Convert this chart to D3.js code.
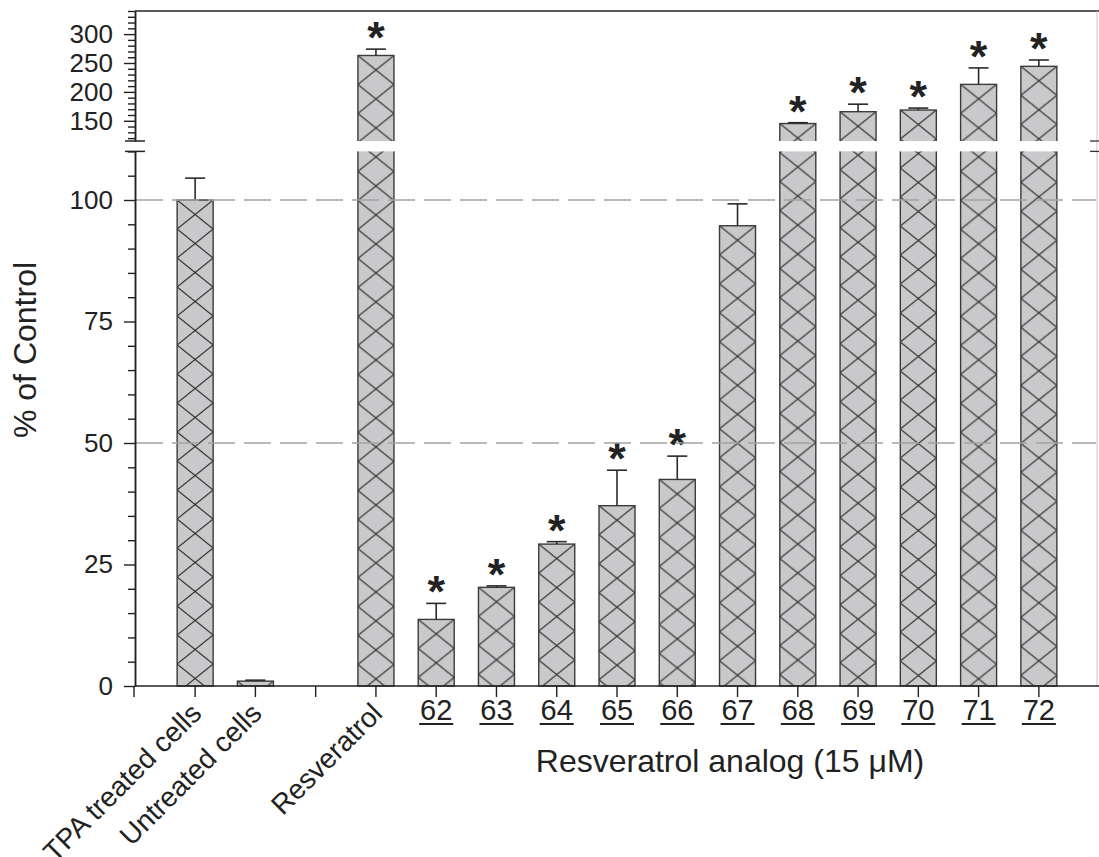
<!DOCTYPE html>
<html>
<head>
<meta charset="utf-8">
<script src="https://cdn.jsdelivr.net/npm/d3@7"></script>
<style>
  body { margin: 0; background: #fff; }
  text { font-family: "Liberation Sans", Arial, sans-serif; fill: #222; }
</style>
</head>
<body>
<svg id="chart" width="1099" height="857"></svg>
<script>
// values (% of control, mean and upward error)
const categories = ['TPA treated cells', 'Untreated cells', '', 'Resveratrol',
    '62', '63', '64', '65', '66', '67', '68', '69', '70', '71', '72'];
const means = [100, 1.0, null, 263, 13.7, 20.3, 29.2, 37.1, 42.5, 94.7, 145.2, 165.7, 168.6, 213, 244.2];
const errors = [4.5, 0.2, null, 11, 3.3, 0.3, 0.5, 7.3, 4.8, 4.5, 1.5, 13, 3.4, 28.5, 11];
const starred = [false, false, false, true, true, true, true, true, true, false, true, true, true, true, true];
const lowerTicks = [0, 25, 50, 75, 100];
const upperTicks = [150, 200, 250, 300];
const refLines = [50, 100];
const xTitle = 'Resveratrol analog (15 \u03bcM)';
const yTitle = '% of Control';

const svg = d3.select('#chart');
const plotL = 135, plotR = 1099, plotB = 686, plotT = 11;
const breakLow = 110, breakHigh = 115;

const x = d3.scaleBand()
    .domain(categories)
    .range([165, 1069]);
const yL = d3.scaleLinear().domain([0, breakLow]).range([plotB, 151.4]);
const yU = d3.scaleLinear().domain([breakHigh, 340]).range([141, plotT]);
const y = v => (v <= breakLow ? yL(v) : yU(v));
const cx = c => x(c) + x.bandwidth() / 2;
const barW = 36;

const rows = categories.map((c, i) => ({
    c, i, v: means[i], e: errors[i], star: starred[i],
})).filter(d => d.v !== null);

// hatch patterns, one per bar so the lattice lines up with each bar
const defs = svg.append('defs');
const pw = 36, ph = 29;
rows.forEach(d => {
    const p = defs.append('pattern')
        .attr('id', `hatch${d.i}`)
        .attr('patternUnits', 'userSpaceOnUse')
        .attr('x', cx(d.c) - barW / 2)
        .attr('y', y(d.v))
        .attr('width', pw)
        .attr('height', ph);
    p.append('rect').attr('width', pw).attr('height', ph).attr('fill', '#c9c9cb');
    const s = ph / pw;
    let path = '';
    for (let n = -1; n <= 2; n++) {
        path += `M-6,${-6 * s + ph * n}L42,${42 * s + ph * n}`;
        path += `M-6,${6 * s + ph * n}L42,${-42 * s + ph * n}`;
    }
    p.append('path').attr('d', path).attr('stroke', '#2a2a2a').attr('stroke-width', 1.1).attr('fill', 'none');
});

// bars
svg.append('g').selectAll('rect')
    .data(rows)
    .join('rect')
    .attr('x', d => cx(d.c) - barW / 2)
    .attr('y', d => y(d.v))
    .attr('width', barW)
    .attr('height', d => plotB - y(d.v))
    .attr('fill', d => `url(#hatch${d.i})`)
    .attr('stroke', '#3a3a3a')
    .attr('stroke-width', 1.4);

// gap of the broken axis
svg.append('rect')
    .attr('x', plotL + 1).attr('y', 141)
    .attr('width', plotR - plotL - 4).attr('height', 151.4 - 141)
    .attr('fill', '#fff');

// error bars (upper only)
const eb = svg.append('g').attr('stroke', '#2a2a2a').attr('stroke-width', 1.6);
rows.forEach(d => {
    const y0 = y(d.v), y1 = y(d.v + d.e);
    eb.append('line').attr('x1', cx(d.c)).attr('x2', cx(d.c)).attr('y1', y0).attr('y2', y1);
    eb.append('line').attr('x1', cx(d.c) - 10).attr('x2', cx(d.c) + 10).attr('y1', y1).attr('y2', y1);
});

// asterisks
svg.append('g').selectAll('text')
    .data(rows.filter(d => d.star))
    .join('text')
    .attr('x', d => cx(d.c))
    .attr('y', d => y(d.v + d.e) + 4)
    .attr('text-anchor', 'middle')
    .attr('font-size', 45)
    .attr('font-weight', 'bold')
    .text('*');

// dashed reference lines
svg.append('g').selectAll('line')
    .data(refLines)
    .join('line')
    .attr('x1', plotL + 1).attr('x2', plotR - 3)
    .attr('y1', d => yL(d)).attr('y2', d => yL(d))
    .attr('stroke', '#a3a3a3')
    .attr('stroke-width', 1.5)
    .attr('stroke-dasharray', '27,9');

// frame
svg.append('line').attr('x1', plotL).attr('x2', plotR).attr('y1', plotT).attr('y2', plotT)
    .attr('stroke', '#222').attr('stroke-width', 1.5);
svg.append('line').attr('x1', plotR - 2).attr('x2', plotR - 2).attr('y1', plotT).attr('y2', plotB)
    .attr('stroke', '#c4c4c4').attr('stroke-width', 1);
svg.append('g').attr('stroke', '#333').attr('stroke-width', 1.3)
    .selectAll('line').data([141, 151.4]).join('line')
    .attr('x1', plotR - 9).attr('x2', plotR).attr('y1', d => d).attr('y2', d => d);

// y axes
function styleAxis(g) {
    g.select('.domain').attr('stroke', '#222').attr('stroke-width', 1.5);
    g.selectAll('.tick line').attr('stroke', '#222').attr('stroke-width', 1.4);
    g.selectAll('.tick text').attr('font-size', 26).attr('fill', '#222')
        .style('font-family', '"Liberation Sans", Arial, sans-serif');
}
const minorL = d3.range(0, 111, 5).filter(v => v % 25 !== 0);
const minorU = d3.range(120, 341, 10).filter(v => v % 50 !== 0);

svg.append('g').attr('transform', `translate(${plotL},0)`)
    .call(d3.axisLeft(yL).tickValues(minorL).tickSize(7).tickFormat('').tickSizeOuter(0))
    .call(styleAxis);
svg.append('g').attr('transform', `translate(${plotL},0)`)
    .call(d3.axisLeft(yL).tickValues(lowerTicks).tickSize(11).tickPadding(11).tickSizeOuter(0))
    .call(styleAxis);
svg.append('g').attr('transform', `translate(${plotL},0)`)
    .call(d3.axisLeft(yU).tickValues(minorU).tickSize(7).tickFormat('').tickSizeOuter(0))
    .call(styleAxis);
svg.append('g').attr('transform', `translate(${plotL},0)`)
    .call(d3.axisLeft(yU).tickValues(upperTicks).tickSize(11).tickPadding(11).tickSizeOuter(0))
    .call(styleAxis);
// break caps
svg.append('g').attr('stroke', '#222').attr('stroke-width', 1.5)
    .selectAll('line').data([141, 151.4]).join('line')
    .attr('x1', plotL - 10).attr('x2', plotL + 10).attr('y1', d => d).attr('y2', d => d);

// x axis
const xAxis = svg.append('g').attr('transform', `translate(0,${plotB})`)
    .call(d3.axisBottom(x).tickSize(11).tickFormat('').tickSizeOuter(0));
xAxis.select('.domain').attr('d', `M${plotL},0H${plotR}`).attr('stroke', '#222').attr('stroke-width', 1.5);
xAxis.selectAll('.tick line').attr('stroke', '#222').attr('stroke-width', 1.4);
xAxis.append('line').attr('x1', plotL - 1).attr('x2', plotL - 1).attr('y1', 0).attr('y2', 11)
    .attr('stroke', '#222').attr('stroke-width', 1.4);

const isNum = c => /^\d+$/.test(c);
// rotated labels for controls
svg.append('g').selectAll('text')
    .data(categories.filter(c => c && !isNum(c)))
    .join('text')
    .attr('transform', c => `translate(${cx(c) + 8},${plotB + 29}) rotate(-45)`)
    .attr('text-anchor', 'end')
    .attr('font-size', 28)
    .text(c => c);

// underlined analog numbers
const numLab = svg.append('g').selectAll('g')
    .data(categories.filter(isNum))
    .join('g')
    .attr('transform', c => `translate(${cx(c)},${plotB + 34})`);
numLab.append('text')
    .attr('text-anchor', 'middle')
    .attr('font-size', 29)
    .text(c => c);
numLab.append('line')
    .attr('x1', -17).attr('x2', 17).attr('y1', 4).attr('y2', 4)
    .attr('stroke', '#222').attr('stroke-width', 2);

svg.append('text')
    .attr('x', 730).attr('y', plotB + 86)
    .attr('text-anchor', 'middle')
    .attr('font-size', 32)
    .text(xTitle);

svg.append('text')
    .attr('transform', `translate(36,350) rotate(-90)`)
    .attr('text-anchor', 'middle')
    .attr('font-size', 32)
    .text(yTitle);
</script>
</body>
</html>
